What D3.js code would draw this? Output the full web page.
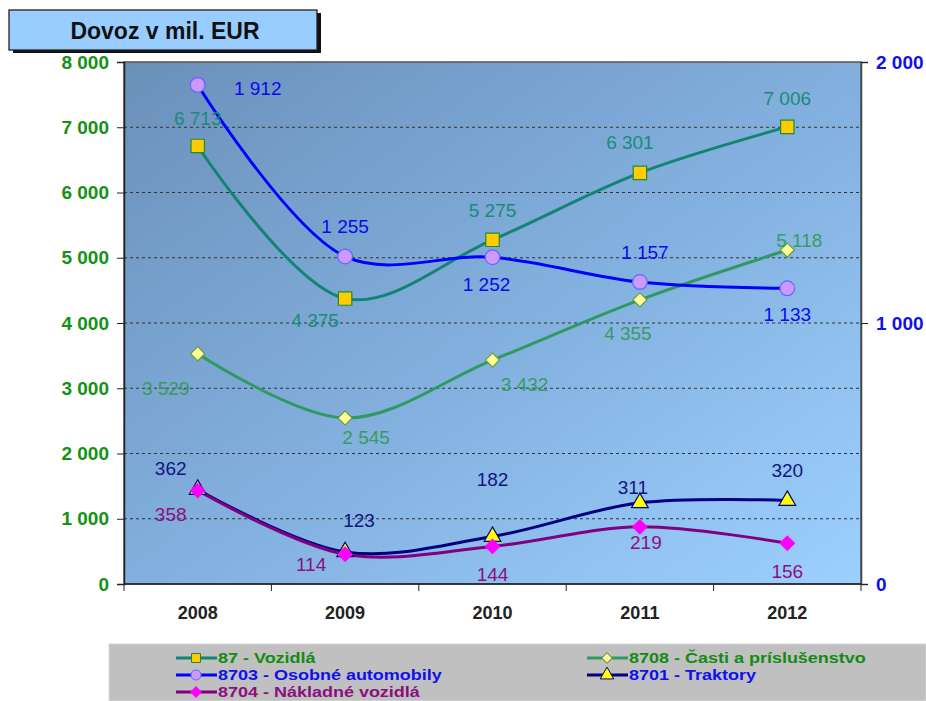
<!DOCTYPE html>
<html>
<head>
<meta charset="utf-8">
<script src="https://cdn.jsdelivr.net/npm/d3@7"></script>
<style>
  body { margin: 0; background: #fff; }
  svg { display: block; font-family: "Liberation Sans", Arial, sans-serif; }
</style>
</head>
<body>
<div id="chart"></div>
<script>
// ---- data ----
const years = ["2008", "2009", "2010", "2011", "2012"];
const vozidla = [6713, 4375, 5275, 6301, 7006];       // 87 - left axis
const casti = [3529, 2545, 3432, 4355, 5118];         // 8708 - left axis
const osobne = [1912, 1255, 1252, 1157, 1133];        // 8703 - right axis
const traktory = [362, 123, 182, 311, 320];           // 8701 - right axis
const nakladne = [358, 114, 144, 219, 156];           // 8704 - right axis
const leftTicks = [0, 1000, 2000, 3000, 4000, 5000, 6000, 7000, 8000];
const rightTicks = [0, 1000, 2000];

// label offsets (dx, dy) relative to each marker
const labelPos = {
  vozidla: [[0, -28], [-30, 21], [0, -30], [-10, -31], [0, -29]],
  casti: [[-32, 34], [21, 19], [32, 24], [-12, 33], [12, -10]],
  osobne: [[60, 3], [0, -30], [-6, 27], [5, -30], [0, 26]],
  traktory: [[-27, -22], [14, -32], [0, -57], [-7, -16], [0, -30]],
  nakladne: [[-27, 23], [-34, 10], [0, 28], [6, 15], [0, 28]]
};

const width = 926, height = 701;
const plot = { left: 124, right: 861, top: 62, bottom: 584 };

const svg = d3.select("#chart").append("svg")
  .attr("width", width).attr("height", height);

const defs = svg.append("defs");
const grad = defs.append("linearGradient").attr("id", "bg")
  .attr("x1", 0).attr("y1", 0).attr("x2", 1).attr("y2", 1);
grad.append("stop").attr("offset", 0).attr("stop-color", "#6b90ba");
grad.append("stop").attr("offset", 0.55).attr("stop-color", "#84b2e0");
grad.append("stop").attr("offset", 1).attr("stop-color", "#9dd0ff");

const x = d3.scaleBand().domain(years).range([plot.left, plot.right]);
const yL = d3.scaleLinear().domain([0, 8000]).range([plot.bottom, plot.top]);
const yR = d3.scaleLinear().domain([0, 2000]).range([plot.bottom, plot.top]);

const fmt = v => d3.format(",")(v).replace(/,/g, " ");

// plot background
svg.append("rect")
  .attr("x", plot.left).attr("y", plot.top)
  .attr("width", plot.right - plot.left).attr("height", plot.bottom - plot.top)
  .attr("fill", "url(#bg)").attr("stroke", "#555").attr("stroke-width", 1.5);

// gridlines
svg.append("g").selectAll("line")
  .data(leftTicks.filter(d => d > 0 && d < 8000))
  .join("line")
  .attr("x1", plot.left).attr("x2", plot.right)
  .attr("y1", d => yL(d)).attr("y2", d => yL(d))
  .attr("stroke", "#333").attr("stroke-width", 1.2).attr("stroke-dasharray", "3,3");

// left axis
const axL = svg.append("g").attr("transform", `translate(${plot.left},0)`)
  .call(d3.axisLeft(yL).tickValues(leftTicks).tickFormat(fmt).tickSize(7).tickPadding(8));
axL.select(".domain").attr("stroke", "#222").attr("stroke-width", 1.5);
axL.selectAll(".tick line").attr("stroke", "#222");
axL.selectAll("text").attr("fill", "#139213").attr("font-size", 19)
  .attr("font-weight", "bold").attr("font-family", "Liberation Sans, Arial");

// right axis
const axR = svg.append("g").attr("transform", `translate(${plot.right},0)`)
  .call(d3.axisRight(yR).tickValues(rightTicks).tickFormat(fmt).tickSize(7).tickPadding(8));
axR.select(".domain").attr("stroke", "#444").attr("stroke-width", 1.5);
axR.selectAll(".tick line").attr("stroke", "#222");
axR.selectAll("text").attr("fill", "#1010ee").attr("font-size", 19)
  .attr("font-weight", "bold").attr("font-family", "Liberation Sans, Arial");

// bottom axis (ticks at band boundaries)
const bounds = years.map(d => x(d)).concat([plot.right]);
svg.append("g").selectAll("line").data(bounds).join("line")
  .attr("x1", d => d).attr("x2", d => d)
  .attr("y1", plot.bottom).attr("y2", plot.bottom + 7)
  .attr("stroke", "#222");
svg.append("line").attr("x1", plot.left).attr("x2", plot.right)
  .attr("y1", plot.bottom).attr("y2", plot.bottom).attr("stroke", "#222").attr("stroke-width", 1.5);
svg.append("g").selectAll("text").data(years).join("text")
  .attr("x", d => x(d) + x.bandwidth() / 2).attr("y", plot.bottom + 35)
  .attr("text-anchor", "middle").attr("font-size", 18).attr("font-weight", "bold")
  .attr("fill", "#222").text(d => d);

// series
const series = [
  { key: "vozidla", name: "87 - Vozidlá", values: vozidla, y: yL, line: "#138474", label: "#1a8a7a",
    marker: "square", mfill: "#ffcc00", mstroke: "#1e8a3a", text: "#138a13" },
  { key: "casti", name: "8708 - Časti a príslušenstvo", values: casti, y: yL, line: "#2e9a62", label: "#3a9a62",
    marker: "diamond", mfill: "#ffff99", mstroke: "#6a9a40", text: "#138a13" },
  { key: "osobne", name: "8703 - Osobné automobily", values: osobne, y: yR, line: "#0000ff", label: "#0a0aee",
    marker: "circle", mfill: "#cc99ff", mstroke: "#6666ff", text: "#1010ee" },
  { key: "traktory", name: "8701 - Traktory", values: traktory, y: yR, line: "#000080", label: "#141480",
    marker: "triangle", mfill: "#ffff00", mstroke: "#000080", text: "#1010ee" },
  { key: "nakladne", name: "8704 - Nákladné vozidlá", values: nakladne, y: yR, line: "#800080", label: "#8a1080",
    marker: "diamond", mfill: "#ff00ff", mstroke: "#ff00ff", text: "#8a1080" }
];

const symbols = {
  square: d3.symbol().type(d3.symbolSquare).size(180),
  diamond: d3.symbol().type(d3.symbolSquare).size(100),
  circle: d3.symbol().type(d3.symbolCircle).size(170),
  triangle: d3.symbol().type(d3.symbolTriangle).size(120)
};
const smallSymbols = {
  square: d3.symbol().type(d3.symbolSquare).size(80),
  diamond: d3.symbol().type(d3.symbolSquare).size(55),
  circle: d3.symbol().type(d3.symbolCircle).size(80),
  triangle: d3.symbol().type(d3.symbolTriangle).size(80)
};
const rot = m => (m === "diamond" ? " rotate(45)" : "");

// draw order: lines first (bottom series on top as in reference)
const drawOrder = ["casti", "vozidla", "osobne", "traktory", "nakladne"];
const cx = d => x(d) + x.bandwidth() / 2;

drawOrder.forEach(k => {
  const s = series.find(d => d.key === k);
  const line = d3.line()
    .x((v, i) => cx(years[i]))
    .y(v => s.y(v))
    .curve(d3.curveCatmullRom.alpha(0.5));
  svg.append("path").datum(s.values)
    .attr("d", line).attr("fill", "none")
    .attr("stroke", s.line).attr("stroke-width", 3);
});

drawOrder.forEach(k => {
  const s = series.find(d => d.key === k);
  svg.append("g").selectAll("path").data(s.values).join("path")
    .attr("transform", (v, i) => `translate(${cx(years[i])},${s.y(v)})` + rot(s.marker))
    .attr("d", symbols[s.marker]())
    .attr("fill", s.mfill).attr("stroke", s.mstroke).attr("stroke-width", 1.2);
});

series.forEach(s => {
  svg.append("g").selectAll("text").data(s.values).join("text")
    .attr("x", (v, i) => cx(years[i]) + labelPos[s.key][i][0])
    .attr("y", (v, i) => s.y(v) + labelPos[s.key][i][1] + 7)
    .attr("text-anchor", "middle").attr("font-size", 19)
    .attr("fill", s.label).text(v => fmt(v));
});

// title box
svg.append("rect").attr("x", 13).attr("y", 13).attr("width", 308).attr("height", 40).attr("fill", "#111");
svg.append("rect").attr("x", 9).attr("y", 10).attr("width", 308).attr("height", 40)
  .attr("fill", "#99ccff").attr("stroke", "#222").attr("stroke-width", 1.3);
svg.append("text").attr("x", 165).attr("y", 39).attr("text-anchor", "middle")
  .attr("font-size", 23).attr("font-weight", "bold").attr("fill", "#111")
  .text("Dovoz v mil. EUR");

// legend
svg.append("rect").attr("x", 109).attr("y", 644).attr("width", 817).attr("height", 57)
  .attr("fill", "#c0c0c0").attr("stroke", "#d8d8d8");
const legendPos = {
  vozidla: [176, 658], osobne: [176, 675], nakladne: [176, 692],
  casti: [587, 658], traktory: [587, 675]
};
const leg = svg.append("g").selectAll("g").data(series).join("g")
  .attr("transform", d => `translate(${legendPos[d.key][0]},${legendPos[d.key][1]})`);
leg.append("line").attr("x1", 0).attr("x2", 41).attr("stroke", d => d.line).attr("stroke-width", 3);
leg.append("path").attr("transform", d => "translate(20,0)" + rot(d.marker))
  .attr("d", d => smallSymbols[d.marker]())
  .attr("fill", d => d.mfill).attr("stroke", d => d.mstroke);
// reference uses a wide-set bold face: stretch the text horizontally
leg.append("text").attr("transform", "translate(42,5) scale(1.2,1)")
  .attr("font-size", 15).attr("font-weight", "bold")
  .attr("fill", d => d.text).text(d => d.name);
</script>
</body>
</html>
